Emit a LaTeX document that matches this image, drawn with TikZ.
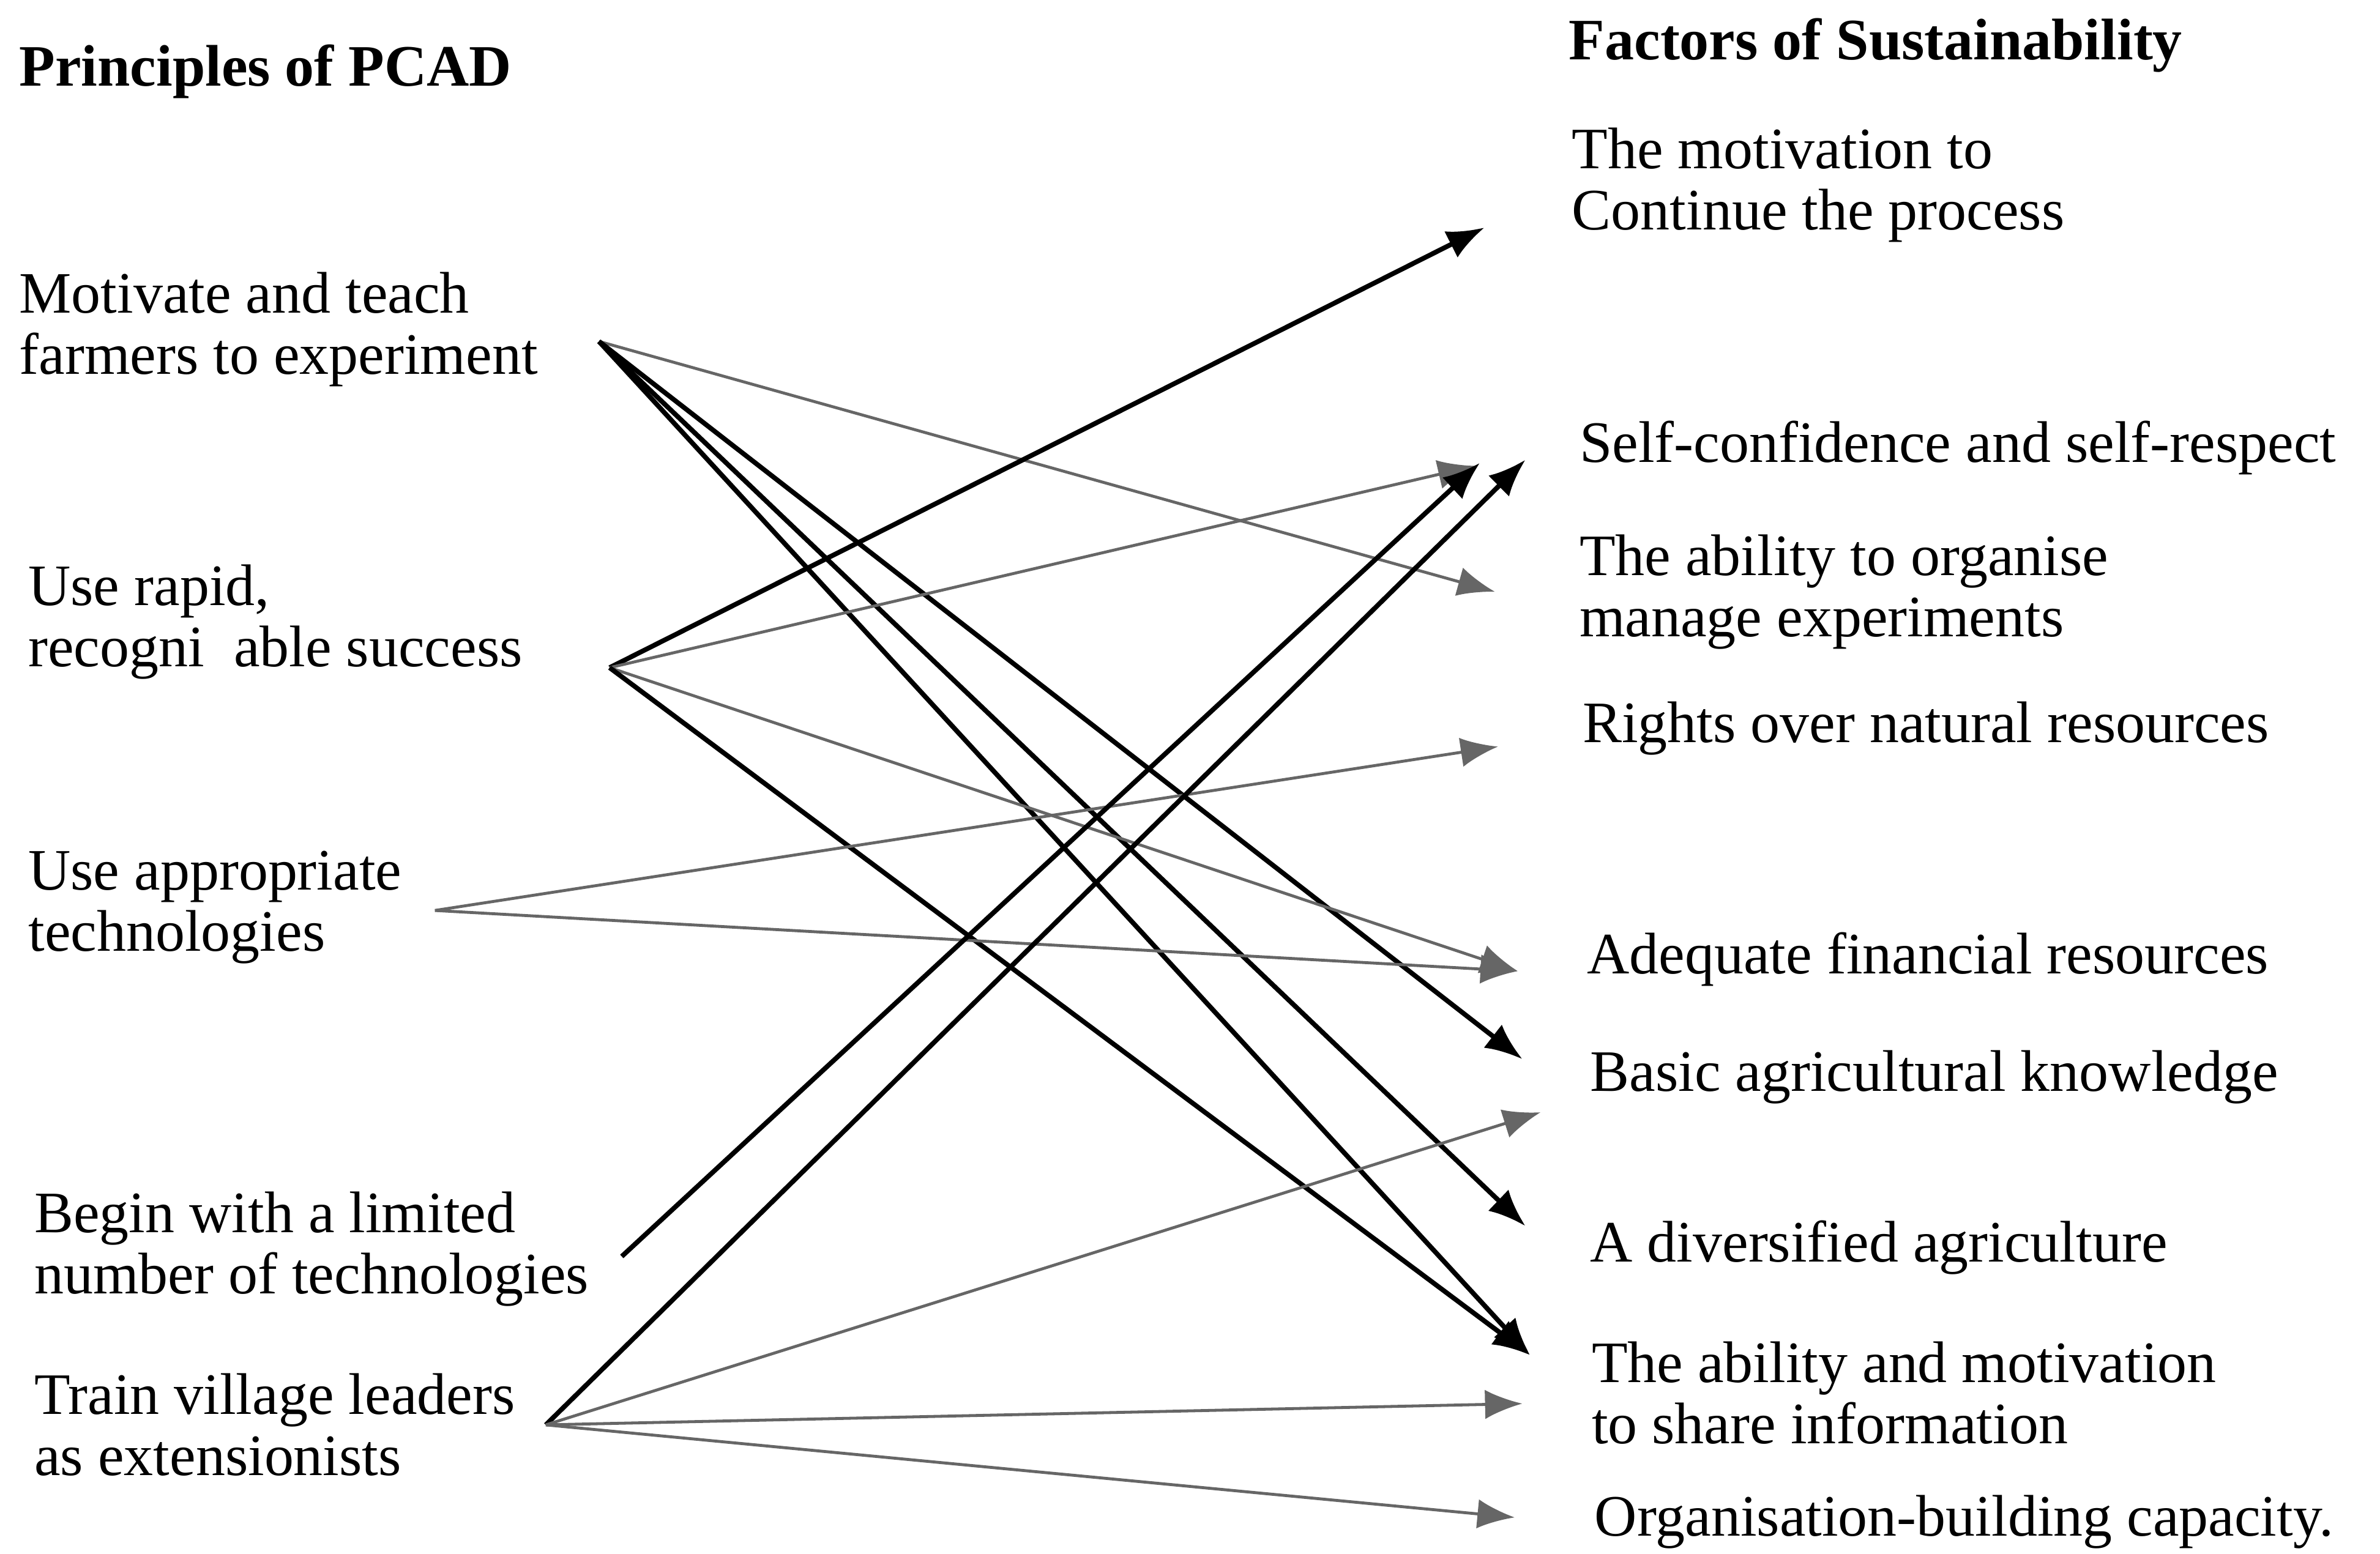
\documentclass[tikz,border=0pt]{standalone}
\usepackage{fontspec}
\setmainfont{Liberation Serif}
\usetikzlibrary{arrows.meta,positioning}

\begin{document}
\begin{tikzpicture}[
		x=0.01cm, y=-0.01cm,
		font=\fontsize{11}{11.5}\selectfont,
		head/.style={anchor=west, inner sep=0pt, font=\fontsize{11}{11.5}\selectfont\bfseries},
		principle/.style={anchor=west, inner sep=0pt, align=flush left, text width=#1},
		factor/.style={anchor=west, inner sep=0pt, align=flush left},
		arrow/.style={-{Latex[length=7pt, width=5.5pt]}, line width=0.9pt},
		faint/.style={arrow, line width=0.55pt, black!60},
	]
		\useasboundingbox (0,0) rectangle (1568,1024);

		% principles
		\node (pcad) [head] at (12,47) {Principles of PCAD};
		\node (mot) [principle=3.81cm] at (12,217) {Motivate and teach\\farmers to experiment};
		\node (rapid) [principle=3.82cm] at (18,410) {Use rapid,\\recogni~ able success};
		\node (tech) [principle=2.67cm] at (18,598) {Use appropriate\\technologies};
		\node (begin) [principle=3.86cm] at (22,823) {Begin with a limited\\number of technologies};
		\node (train) [principle=3.36cm] at (22,939) {Train village leaders\\as extensionists};

		% factors
		\node (sust) [head] at (1033,30) {Factors of Sustainability};
		\node (cont) [factor] at (1035,122) {The motivation to\\Continue the process};
		\node (selfc) [factor] at (1040,295) {Self-confidence and self-respect};
		\node (orgn) [factor] at (1040,390) {The ability to organise\\manage experiments};
		\node (rights) [factor] at (1042,480) {Rights over natural resources};
		\node (fin) [factor] at (1045,632) {Adequate financial resources};
		\node (basic) [factor] at (1047,710) {Basic agricultural knowledge};
		\node (div) [factor] at (1047,822) {A diversified agriculture};
		\node (share) [factor] at (1048,918) {The ability and motivation\\to share information};
		\node (orgb) [factor] at (1050,1003) {Organisation-building capacity.};

		% links
		\draw[faint] ([shift={(0,8)}]mot.east) -- ([shift={(-55,0)}]orgn.west);
		\draw[arrow] ([shift={(0,8)}]mot.east) -- ([shift={(-44,-12)}]basic.west);
		\draw[arrow] ([shift={(0,8)}]mot.east) -- ([shift={(-42,-14)}]div.west);
		\draw[arrow] ([shift={(0,8)}]mot.east) -- ([shift={(-40,-25)}]share.west);

		\draw[arrow] ([shift={(0,30)}]rapid.east) -- ([shift={(-57,28)}]cont.west);
		\draw[faint] ([shift={(0,30)}]rapid.east) -- ([shift={(-68,12)}]selfc.west);
		\draw[faint] ([shift={(0,30)}]rapid.east) -- ([shift={(-45,8)}]fin.west);
		\draw[arrow] ([shift={(0,30)}]rapid.east) -- ([shift={(-40,-25)}]share.west);

		\draw[faint] ([shift={(0,2)}]tech.east) -- ([shift={(-55,12)}]rights.west);
		\draw[faint] ([shift={(0,2)}]tech.east) -- ([shift={(-45,8)}]fin.west);

		\draw[arrow] ([shift={(0,5)}]begin.east) -- ([shift={(-65,10)}]selfc.west);

		\draw[arrow] (train.east) -- ([shift={(-35,8)}]selfc.west);
		\draw[faint] (train.east) -- ([shift={(-32,23)}]basic.west);
		\draw[faint] (train.east) -- ([shift={(-45,7)}]share.west);
		\draw[faint] (train.east) -- ([shift={(-52,-3)}]orgb.west);
	\end{tikzpicture}
\end{document}
